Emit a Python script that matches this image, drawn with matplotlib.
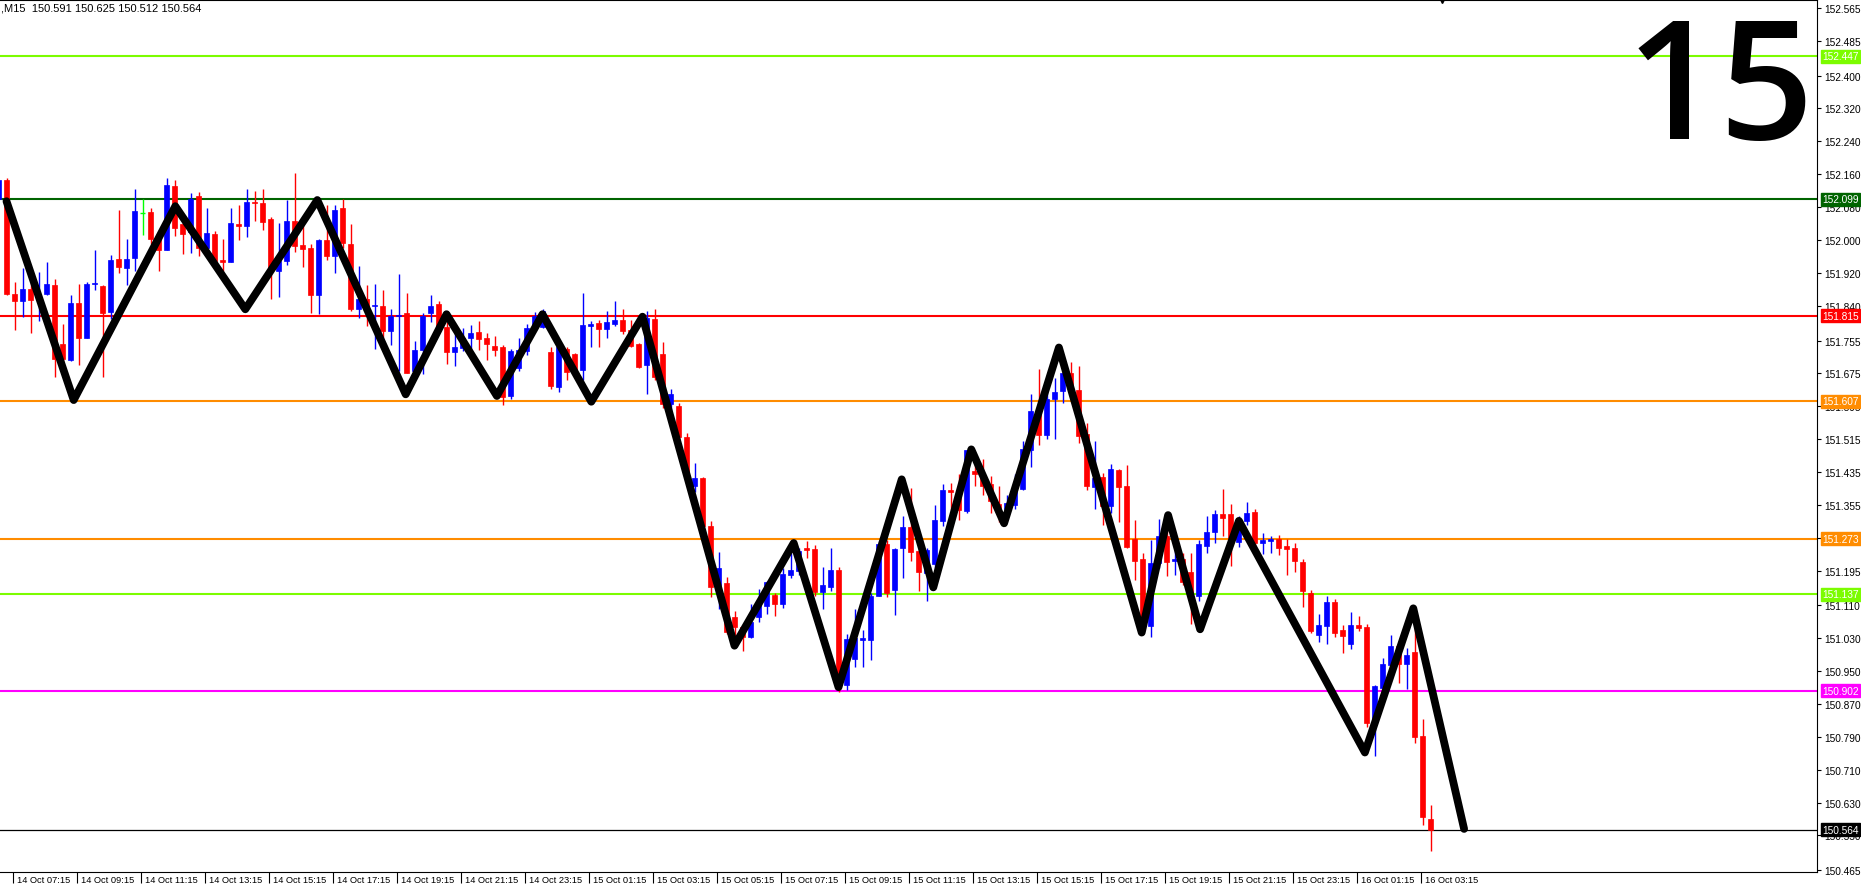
import numpy as np
import matplotlib.pyplot as plt
from matplotlib.transforms import blended_transform_factory

# M15 candles, first one is 14 Oct 06:45 (bar index -1)
first_bar = -1
opens = [152.100, 152.146, 151.869, 151.851, 151.881, 151.855, 151.868, 151.889, 151.746, 151.707,
         151.847, 151.760, 151.892, 151.888, 151.825, 151.953, 151.932, 151.955, 152.066, 152.068,
         152.001, 151.975, 152.130, 152.038, 152.020, 152.107, 151.981, 152.014, 151.950, 151.946,
         152.038, 152.034, 152.092, 152.089, 152.050, 151.925, 151.949, 152.046, 151.987, 151.981,
         151.865, 151.999, 151.961, 152.077, 151.989, 151.831, 151.855, 151.840, 151.839, 151.778,
         151.815, 151.821, 151.681, 151.733, 151.821, 151.843, 151.789, 151.727, 151.737, 151.762,
         151.776, 151.760, 151.741, 151.739, 151.620, 151.687, 151.729, 151.788, 151.789, 151.728,
         151.642, 151.735, 151.721, 151.683, 151.790, 151.797, 151.784, 151.794, 151.806, 151.781,
         151.746, 151.696, 151.808, 151.721, 151.600, 151.595, 151.520, 151.400, 151.420, 151.304,
         151.150, 151.165, 151.081, 151.057, 151.034, 151.081, 151.108, 151.135, 151.114, 151.185,
         151.195, 151.249, 151.247, 151.142, 151.156, 151.196, 150.916, 150.980, 151.025, 151.027,
         151.134, 151.260, 151.148, 151.249, 151.300, 151.243, 151.190, 151.210, 151.316, 151.390,
         151.387, 151.340, 151.437, 151.429, 151.405, 151.356, 151.344, 151.354, 151.393, 151.488,
         151.583, 151.526, 151.612, 151.632, 151.677, 151.634, 151.527, 151.398, 151.423, 151.352,
         151.439, 151.401, 151.273, 151.222, 151.060, 151.214, 151.279, 151.218, 151.222, 151.192,
         151.133, 151.255, 151.289, 151.332, 151.332, 151.265, 151.316, 151.337, 151.263, 151.267,
         151.273, 151.255, 151.249, 151.216, 151.141, 151.038, 151.060, 151.119, 151.050, 151.017,
         151.062, 151.058, 150.823, 150.909, 150.965, 151.011, 150.967, 150.997, 150.792, 150.591]
highs = [152.150, 152.150, 151.898, 151.931, 151.902, 151.923, 151.945, 151.904, 151.795, 151.865,
         151.892, 151.898, 151.975, 151.890, 151.962, 152.072, 152.001, 152.125, 152.100, 152.077,
         152.005, 152.150, 152.146, 152.060, 152.113, 152.117, 152.078, 152.022, 152.003, 152.077,
         152.085, 152.125, 152.119, 152.123, 152.055, 152.042, 152.096, 152.162, 152.042, 151.990,
         152.001, 152.086, 152.086, 152.099, 152.038, 151.936, 151.890, 151.892, 151.877, 151.831,
         151.916, 151.870, 151.753, 151.821, 151.865, 151.851, 151.800, 151.786, 151.786, 151.792,
         151.802, 151.774, 151.767, 151.745, 151.734, 151.762, 151.794, 151.824, 151.831, 151.740,
         151.745, 151.739, 151.725, 151.870, 151.802, 151.805, 151.827, 151.851, 151.831, 151.805,
         151.750, 151.827, 151.831, 151.752, 151.638, 151.604, 151.530, 151.458, 151.423, 151.316,
         151.239, 151.180, 151.097, 151.060, 151.114, 151.150, 151.170, 151.140, 151.200, 151.237,
         151.250, 151.268, 151.257, 151.203, 151.249, 151.203, 151.040, 151.101, 151.050, 151.140,
         151.268, 151.270, 151.251, 151.329, 151.397, 151.250, 151.250, 151.354, 151.405, 151.407,
         151.431, 151.488, 151.460, 151.466, 151.425, 151.401, 151.378, 151.429, 151.510, 151.624,
         151.685, 151.630, 151.664, 151.697, 151.703, 151.694, 151.553, 151.510, 151.433, 151.454,
         151.443, 151.453, 151.317, 151.237, 151.269, 151.321, 151.300, 151.259, 151.237, 151.237,
         151.269, 151.329, 151.342, 151.393, 151.357, 151.328, 151.362, 151.344, 151.287, 151.279,
         151.281, 151.271, 151.263, 151.222, 151.147, 151.089, 151.133, 151.125, 151.062, 151.093,
         151.084, 151.064, 150.916, 150.983, 151.037, 151.024, 151.006, 151.100, 150.833, 150.625]
lows = [152.090, 151.865, 151.781, 151.813, 151.774, 151.803, 151.865, 151.665, 151.665, 151.705,
        151.696, 151.760, 151.878, 151.666, 151.807, 151.920, 151.889, 151.924, 152.011, 151.990,
        151.924, 151.975, 152.010, 151.965, 151.969, 151.961, 151.961, 151.928, 151.924, 151.946,
        151.999, 152.007, 152.046, 152.023, 151.857, 151.861, 151.940, 151.970, 151.934, 151.821,
        151.819, 151.950, 151.920, 151.980, 151.827, 151.811, 151.790, 151.734, 151.760, 151.744,
        151.680, 151.675, 151.675, 151.673, 151.800, 151.780, 151.699, 151.693, 151.729, 151.733,
        151.733, 151.707, 151.717, 151.598, 151.612, 151.680, 151.720, 151.780, 151.786, 151.636,
        151.630, 151.660, 151.680, 151.660, 151.740, 151.740, 151.760, 151.790, 151.770, 151.740,
        151.687, 151.624, 151.660, 151.590, 151.555, 151.500, 151.400, 151.385, 151.300, 151.130,
        151.101, 151.040, 151.030, 150.998, 151.030, 151.070, 151.089, 151.085, 151.105, 151.178,
        151.183, 151.225, 151.134, 151.101, 151.146, 150.899, 150.905, 150.960, 150.961, 150.978,
        151.132, 151.130, 151.086, 151.176, 151.218, 151.145, 151.121, 151.200, 151.304, 151.342,
        151.318, 151.336, 151.402, 151.379, 151.334, 151.313, 151.330, 151.344, 151.390, 151.447,
        151.500, 151.516, 151.516, 151.604, 151.620, 151.506, 151.390, 151.344, 151.305, 151.336,
        151.313, 151.251, 151.172, 151.050, 151.032, 151.200, 151.182, 151.183, 151.160, 151.064,
        151.121, 151.237, 151.261, 151.279, 151.206, 151.253, 151.305, 151.250, 151.235, 151.237,
        151.233, 151.183, 151.192, 151.106, 151.042, 151.021, 151.016, 151.033, 150.995, 151.003,
        151.048, 150.814, 150.744, 150.900, 150.960, 150.921, 150.906, 150.775, 150.576, 150.512]
closes = [152.146, 151.868, 151.851, 151.880, 151.854, 151.868, 151.892, 151.709, 151.709, 151.847,
          151.760, 151.892, 151.894, 151.823, 151.950, 151.934, 151.953, 152.070, 152.066, 152.001,
          151.975, 152.133, 152.030, 152.014, 152.100, 151.981, 152.016, 151.949, 151.945, 152.040,
          152.034, 152.093, 152.089, 152.044, 151.924, 151.949, 152.046, 151.984, 151.979, 151.865,
          151.999, 151.961, 152.072, 151.993, 151.831, 151.855, 151.830, 151.841, 151.778, 151.815,
          151.818, 151.677, 151.733, 151.814, 151.840, 151.789, 151.727, 151.739, 151.762, 151.774,
          151.758, 151.746, 151.733, 151.618, 151.729, 151.732, 151.786, 151.815, 151.828, 151.644,
          151.740, 151.678, 151.683, 151.792, 151.796, 151.784, 151.800, 151.806, 151.778, 151.742,
          151.691, 151.810, 151.667, 151.600, 151.625, 151.520, 151.420, 151.420, 151.304, 151.156,
          151.200, 151.045, 151.058, 151.032, 151.069, 151.110, 151.166, 151.114, 151.187, 151.196,
          151.242, 151.246, 151.142, 151.160, 151.196, 150.916, 151.028, 151.030, 151.030, 151.134,
          151.260, 151.140, 151.247, 151.300, 151.240, 151.192, 151.244, 151.317, 151.390, 151.386,
          151.342, 151.488, 151.429, 151.401, 151.364, 151.336, 151.359, 151.397, 151.490, 151.583,
          151.524, 151.612, 151.630, 151.677, 151.634, 151.522, 151.401, 151.421, 151.352, 151.443,
          151.398, 151.252, 151.218, 151.060, 151.214, 151.279, 151.216, 151.222, 151.168, 151.133,
          151.259, 151.290, 151.332, 151.324, 151.275, 151.321, 151.334, 151.263, 151.269, 151.273,
          151.249, 151.247, 151.218, 151.145, 151.048, 151.062, 151.119, 151.044, 151.036, 151.062,
          151.055, 150.823, 150.913, 150.967, 151.011, 150.967, 150.989, 150.790, 150.594, 150.564]

# zigzag turning points (bar index, price)
zz_bar = [0.0, 8.4, 21.1, 29.85, 38.85, 49.9, 55.0, 61.3, 67.0, 73.1, 79.5, 91.0, 98.4, 104.0,
          111.9, 115.85, 120.6, 124.7, 131.55, 141.9, 145.2, 149.2, 154.05, 169.8, 175.85, 182.2]
zz_price = [152.094, 151.610, 152.082, 151.831, 152.097, 151.624, 151.819, 151.620, 151.819,
            151.606, 151.813, 151.012, 151.262, 150.911, 151.417, 151.154, 151.490, 151.310,
            151.738, 151.044, 151.330, 151.052, 151.316, 150.752, 151.103, 150.566]

level_prices = [152.447, 152.099, 151.815, 151.607, 151.273, 151.137, 150.902]
level_colors = ['#7CFC00', '#006400', '#FF0000', '#FF8C00', '#FF8C00', '#7CFC00', '#FF00FF']
bid = 150.564

price_ticks = [152.565, 152.485, 152.400, 152.320, 152.240, 152.160, 152.080, 152.000, 151.920,
               151.840, 151.755, 151.675, 151.595, 151.515, 151.435, 151.355, 151.275, 151.195,
               151.110, 151.030, 150.950, 150.870, 150.790, 150.710, 150.630, 150.550, 150.465]

time_labels = ["14 Oct 07:15", "14 Oct 09:15", "14 Oct 11:15", "14 Oct 13:15", "14 Oct 15:15",
               "14 Oct 17:15", "14 Oct 19:15", "14 Oct 21:15", "14 Oct 23:15", "15 Oct 01:15",
               "15 Oct 03:15", "15 Oct 05:15", "15 Oct 07:15", "15 Oct 09:15", "15 Oct 11:15",
               "15 Oct 13:15", "15 Oct 15:15", "15 Oct 17:15", "15 Oct 19:15", "15 Oct 21:15",
               "15 Oct 23:15", "16 Oct 01:15", "16 Oct 03:15"]
time_bars = [1 + 8 * k for k in range(len(time_labels))]

o = np.array(opens)
h = np.array(highs)
l = np.array(lows)
c = np.array(closes)
x = np.arange(len(o)) + first_bar

plt.rcParams['font.family'] = ['Liberation Sans', 'DejaVu Sans']

fig = plt.figure(figsize=(18.61, 8.87), dpi=100)
ax = fig.add_axes([0, 14 / 887, 1817 / 1861, 872.5 / 887])
ax.set_xlim(-6.5 / 8, (1817 - 6.5) / 8)
ax.set_ylim(152.565 - 864.7 / 411, 152.565 + 8.3 / 411)

# levels
for p, col in zip(level_prices, level_colors):
    ax.axhline(p, color=col, lw=1.5, zorder=1)
ax.axhline(bid, color='black', lw=0.9, zorder=1)

# candles
up = c > o
dn = c < o
dj = c == o
wick_col = np.where(up, 'blue', np.where(dn, 'red', 'lime'))
ax.vlines(x, l, h, colors=wick_col, lw=1, zorder=2)
ax.bar(x[up], c[up] - o[up], bottom=o[up], width=0.6, color='blue', ec='blue', lw=0.5, zorder=2)
ax.bar(x[dn], o[dn] - c[dn], bottom=c[dn], width=0.6, color='red', ec='red', lw=0.5, zorder=2)
ax.hlines(o[dj], x[dj] - 0.3, x[dj] + 0.3, colors='lime', lw=1, zorder=2)

# zigzag
ax.plot(zz_bar, zz_price, color='black', lw=5.6, solid_joinstyle='round',
        solid_capstyle='round', zorder=4)

# price axis on the right
ax.yaxis.tick_right()
ax.set_yticks(price_ticks)
ax.set_yticklabels(['%.3f' % t for t in price_ticks])
ax.tick_params(axis='y', length=3, width=0.8, pad=2, labelsize=7.3)

ax.set_xticks([b - 0.2 for b in time_bars])
ax.set_xticklabels([])
ax.tick_params(axis='x', length=8, width=0.8)
tr = blended_transform_factory(ax.transData, ax.transAxes)
for b, lab in zip(time_bars, time_labels):
    ax.text(b + 0.35, -0.0085, lab, transform=tr, fontsize=6.7, ha='left', va='center',
            clip_on=False)

# coloured level labels
ty = blended_transform_factory(ax.transAxes, ax.transData)
for p, col in zip(level_prices + [bid], level_colors + ['black']):
    ax.text(1.003, p, '%.3f' % p, transform=ty, color='white', fontsize=7.3, ha='left',
            va='center', clip_on=False, zorder=6,
            bbox=dict(boxstyle='square,pad=0.15', fc=col, ec=col))

ax.spines['left'].set_visible(False)
for side in ['top', 'right', 'bottom']:
    ax.spines[side].set_linewidth(0.8)

# chart shift marker
ax.plot([x[-1] + 1.4], [1.0], marker='v', ms=5, color='black', clip_on=False,
        transform=tr, zorder=6)

header = ',M15  %.3f %.3f %.3f %.3f' % (o[-1], h[-1], l[-1], c[-1])
fig.text(1 / 1861, 1 - 8.5 / 887, header, fontsize=8, ha='left', va='center')

fig.text(1814 / 1861, 1 - 139 / 887, '15', fontsize=119, family='Open Sans',
         fontweight='semibold', ha='right', va='baseline', zorder=10)

fig.savefig('out.png', dpi=100)
